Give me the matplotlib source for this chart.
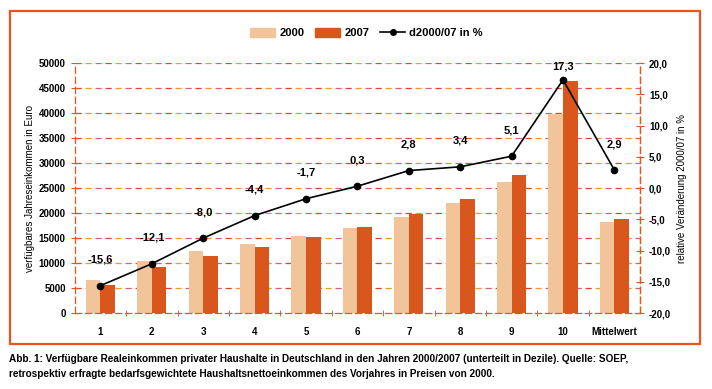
import numpy as np
import matplotlib.pyplot as plt
from matplotlib.patches import Rectangle
from matplotlib.lines import Line2D
from matplotlib.ticker import FuncFormatter

categories = ["1", "2", "3", "4", "5", "6", "7", "8", "9", "10", "Mittelwert"]
income_2000 = [6600, 10500, 12400, 13900, 15500, 17100, 19300, 22100, 26300, 39900, 18300]
income_2007 = [5600, 9300, 11400, 13300, 15200, 17200, 19900, 22800, 27600, 46500, 18800]
change_pct = [-15.6, -12.1, -8.0, -4.4, -1.7, 0.3, 2.8, 3.4, 5.1, 17.3, 2.9]

c2000 = "#f2c49a"
c2007 = "#d9561c"
frame_col = "#e8561e"
grid_cols = ["#e0442a", "#ef9a2a", "#d9607a"]

plt.rcParams["font.family"] = ["Liberation Sans", "DejaVu Sans"]
plt.rcParams["font.weight"] = "bold"

fig = plt.figure(figsize=(7.12, 3.89), dpi=100)
ax = fig.add_axes([0.105, 0.195, 0.794, 0.643])
x = np.arange(len(categories))
w = 0.285

# dashed grid, dashes cycling through three colours
for yv in range(5000, 50001, 5000):
    for i, gc in enumerate(grid_cols):
        ax.axhline(yv, color=gc, lw=0.9, linestyle=(-8 * i, (5, 19)), zorder=0)

ax.bar(x - w / 2, income_2000, w, color=c2000, zorder=2)
ax.bar(x + w / 2, income_2007, w, color=c2007, zorder=2)
ax.set_xlim(-0.5, len(categories) - 0.5)
ax.set_ylim(0, 50000)
ax.set_yticks(range(0, 50001, 5000))
ax.set_xticks(x)
ax.set_xticklabels(categories)
ax.set_xticks(np.arange(0.5, len(categories) - 1, 1), minor=True)
ax.tick_params(axis="x", which="major", length=0, pad=10, labelsize=7)
ax.tick_params(axis="x", which="minor", length=5, direction="inout", color="#e0442a")
ax.tick_params(axis="y", length=6, direction="inout", color=frame_col, labelsize=7)
ax.set_ylabel("verfügbares Jahreseinkommen in Euro", fontsize=7, labelpad=3)

ax.spines["top"].set_visible(False)
for s in ["left", "right", "bottom"]:
    ax.spines[s].set_color(frame_col)
    ax.spines[s].set_linestyle((0, (5, 3)))
    ax.spines[s].set_linewidth(0.9)

ax2 = ax.twinx()
ax2.plot(x, change_pct, color="black", lw=1.2, marker="o", ms=4.5, zorder=5)
ax2.set_ylim(-20, 20)
ax2.set_yticks(np.arange(-20, 20.1, 5))
ax2.yaxis.set_major_formatter(FuncFormatter(lambda v, p: f"{v:.1f}".replace(".", ",")))
ax2.tick_params(axis="y", length=6, direction="inout", color=frame_col, labelsize=7)
ax2.set_ylabel("relative Veränderung 2000/07 in %", fontsize=7, labelpad=4)
for s in ["top", "left", "bottom"]:
    ax2.spines[s].set_visible(False)
ax2.spines["right"].set_color(frame_col)
ax2.spines["right"].set_linestyle((0, (5, 3)))
ax2.spines["right"].set_linewidth(0.9)

for xi, v in zip(x, change_pct):
    off = 6 if v > 15 else 15
    ax2.annotate(f"{v:.1f}".replace(".", ","), (xi, v), xytext=(0, off),
                 textcoords="offset points", ha="center", va="bottom", fontsize=8)

# legend
handles = [Rectangle((0, 0), 1, 1, color=c2000), Rectangle((0, 0), 1, 1, color=c2007),
           Line2D([], [], color="black", lw=1.2, marker="o", ms=4)]
fig.legend(handles, ["2000", "2007", "d2000/07 in %"], loc="center", ncol=3,
           bbox_to_anchor=(0.515, 0.915), frameon=False, fontsize=8,
           handlelength=2.2, handleheight=0.8, columnspacing=1.0, handletextpad=0.4)

# frame around the chart
fig.patches.append(Rectangle((0.014, 0.116), 0.969, 0.856, transform=fig.transFigure,
                             fill=False, edgecolor=frame_col, lw=1.6))

fig.text(0.012, 0.078, "Abb. 1: Verfügbare Realeinkommen privater Haushalte in Deutschland in den Jahren 2000/2007 "
         "(unterteilt in Dezile). Quelle: SOEP,", fontsize=7.2, ha="left", va="center")
fig.text(0.012, 0.038, "retrospektiv erfragte bedarfsgewichtete Haushaltsnettoeinkommen des Vorjahres in Preisen von 2000.",
         fontsize=7.2, ha="left", va="center")

fig.savefig("out.png", dpi=100)
